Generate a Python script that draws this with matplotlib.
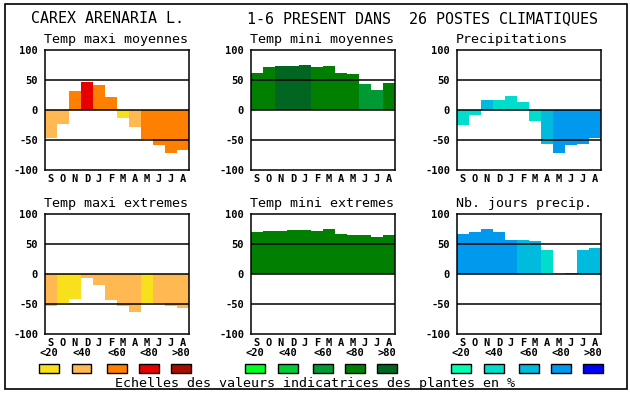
import matplotlib
matplotlib.use("Agg")
import matplotlib.pyplot as plt
from matplotlib.patches import Rectangle

months = ["S", "O", "N", "D", "J", "F", "M", "A", "M", "J", "J", "A"]
class_labels = ["<20", "<40", "<60", "<80", ">80"]

warm_colors = ["#F8E11C", "#FFB852", "#FF8000", "#E60000", "#A80E00"]
green_colors = ["#00FF22", "#00CC33", "#009933", "#007F00", "#006622"]
blue_colors = ["#00FFB0", "#00DDCC", "#00BBDD", "#0099EE", "#0000FF"]

title_left = "CAREX ARENARIA L."
title_right = "1-6 PRESENT DANS  26 POSTES CLIMATIQUES"
footer = "Echelles des valeurs indicatrices des plantes en %"

tmax_moy = [-46, -23, 32, 47, 42, 22, -13, -28, -48, -58, -71, -66]
tmax_moy_cls = [1, 1, 2, 3, 2, 2, 0, 1, 2, 2, 2, 2]

tmin_moy = [62, 72, 74, 74, 75, 72, 73, 62, 60, 43, 33, 45]
tmin_moy_cls = [3, 3, 4, 4, 4, 3, 3, 3, 3, 2, 2, 3]

precip = [-25, -8, 17, 17, 23, 13, -18, -56, -71, -58, -56, -46]
precip_cls = [1, 1, 2, 1, 1, 1, 1, 2, 3, 3, 3, 3]

tmax_ext = [-54, -48, -41, -6, -18, -43, -53, -63, -48, -49, -53, -56]
tmax_ext_cls = [1, 0, 0, 1, 1, 1, 1, 1, 0, 1, 1, 1]

tmin_ext = [70, 72, 72, 73, 73, 72, 75, 67, 65, 65, 62, 65]
tmin_ext_cls = [3, 3, 3, 3, 3, 3, 3, 3, 3, 3, 3, 3]

jours = [67, 70, 75, 70, 57, 57, 55, 40, 0, 2, 40, 43]
jours_cls = [3, 3, 3, 3, 3, 2, 2, 1, 2, 2, 2, 2]

yticks = [100, 50, 0, -50, -100]

W, H = 630, 394
fig = plt.figure(figsize=(W / 100, H / 100), dpi=100)
fig.patch.set_facecolor("white")

MONO = "DejaVu Sans Mono"

def fx(px):
    return px / W

def fy(py):
    return 1 - py / H

panels = [
    ("Temp maxi moyennes", tmax_moy, tmax_moy_cls, warm_colors, 45, 50),
    ("Temp mini moyennes", tmin_moy, tmin_moy_cls, green_colors, 251, 50),
    ("Precipitations", precip, precip_cls, blue_colors, 457, 50),
    ("Temp maxi extremes", tmax_ext, tmax_ext_cls, warm_colors, 45, 214),
    ("Temp mini extremes", tmin_ext, tmin_ext_cls, green_colors, 251, 214),
    ("Nb. jours precip.", jours, jours_cls, blue_colors, 457, 214),
]

AW, AH = 144, 120
for title, vals, cls, cols, left, top in panels:
    ax = fig.add_axes([fx(left), fy(top + AH), AW / W, AH / H])
    x = list(range(len(months)))
    ax.bar(x, vals, width=1.0, color=[cols[c] for c in cls],
           linewidth=0, zorder=1)
    for yv in (50, 0, -50):
        ax.axhline(yv, color="black", lw=1.1, zorder=3)
    ax.set_xlim(-0.5, 11.5)
    ax.set_ylim(-100, 100)
    ax.set_xticks(x)
    ax.set_xticklabels(months, fontfamily=MONO, fontweight="bold", fontsize=7.5)
    ax.set_yticks(yticks)
    ax.set_yticklabels([str(v) for v in yticks], fontfamily=MONO,
                       fontweight="bold", fontsize=7.5)
    ax.tick_params(axis="x", length=0, pad=3)
    ax.tick_params(axis="y", length=0, pad=5)
    for s in ax.spines.values():
        s.set_linewidth(1.1)
        s.set_zorder(4)
    fig.text(fx(left - 1), fy(top - 7), title, fontfamily=MONO,
             fontsize=9.6, ha="left", va="baseline")

# legends
offsets = [-6, 26.5, 62, 94, 126]
for cols, left in [(warm_colors, 45), (green_colors, 251), (blue_colors, 457)]:
    for off, col, lab in zip(offsets, cols, class_labels):
        x0 = left + off
        fig.patches.append(Rectangle((fx(x0), fy(373)), 20 / W, 9 / H,
                                     transform=fig.transFigure,
                                     facecolor=col, edgecolor="black",
                                     lw=1.0))
        fig.text(fx(x0 + 10), fy(353), lab, fontfamily=MONO,
                 fontweight="bold", fontsize=7.5, ha="center", va="center")

fig.text(fx(31), fy(23), title_left, fontfamily=MONO, fontsize=10.8,
         ha="left", va="baseline")
fig.text(fx(247), fy(23), title_right, fontfamily=MONO, fontsize=10.8,
         ha="left", va="baseline")
fig.text(fx(315), fy(387), footer, fontfamily=MONO, fontsize=9.6,
         ha="center", va="baseline")

fig.patches.append(Rectangle((fx(5), fy(389)), 622 / W, 385 / H,
                             transform=fig.transFigure, fill=False,
                             edgecolor="black", lw=1.2))

fig.savefig("out.png", dpi=100)
